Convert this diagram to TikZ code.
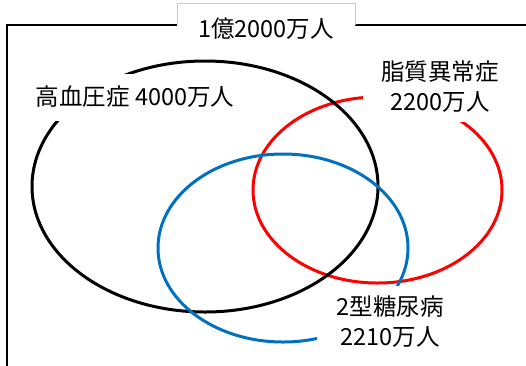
\documentclass[tikz,border=0pt]{standalone}
\usepackage{fontspec}
\setmainfont{Noto Sans CJK JP}
\begin{document}
\begin{tikzpicture}[x=1pt,y=-1pt,
  ring/.style={line width=3pt},
  frameline/.style={line width=2pt, black},
  txt/.style={font=\fontsize{23.5}{30}\selectfont},
  lbl/.style={txt, fill=white, inner sep=0pt, align=center},
]
\useasboundingbox (0,0) rectangle (526,365);
% frame
\draw[frameline] (7,367) -- (7,25) -- (528,25);
\fill[white] (177,3) rectangle (355,45);
\draw[gray!45, line width=0.8pt] (177,25) -- (177,3) -- (355,3) -- (355,25);
\node[txt, inner sep=0pt] (title) at (266,29) {1億2000万人};
% sets
\draw[ring, red] (377.5,190) ellipse [x radius=124.5pt, y radius=93pt];
\draw[ring, black] (205,186.5) ellipse [x radius=173pt, y radius=125.5pt];
\draw[ring, color={rgb,255:red,0;green,112;blue,192}] (283,248) ellipse [x radius=125pt, y radius=94pt];
% labels
\node[lbl, minimum width=210pt, minimum height=47pt] (htn) at (135,97) {高血圧症 4000万人};
\node[lbl, minimum width=154pt, minimum height=70pt] (dys) at (440,87) {脂質異常症\\2200万人};
\node[lbl, minimum width=146pt, minimum height=72pt] (dm) at (390,322) {2型糖尿病\\2210万人};
\end{tikzpicture}
\end{document}
